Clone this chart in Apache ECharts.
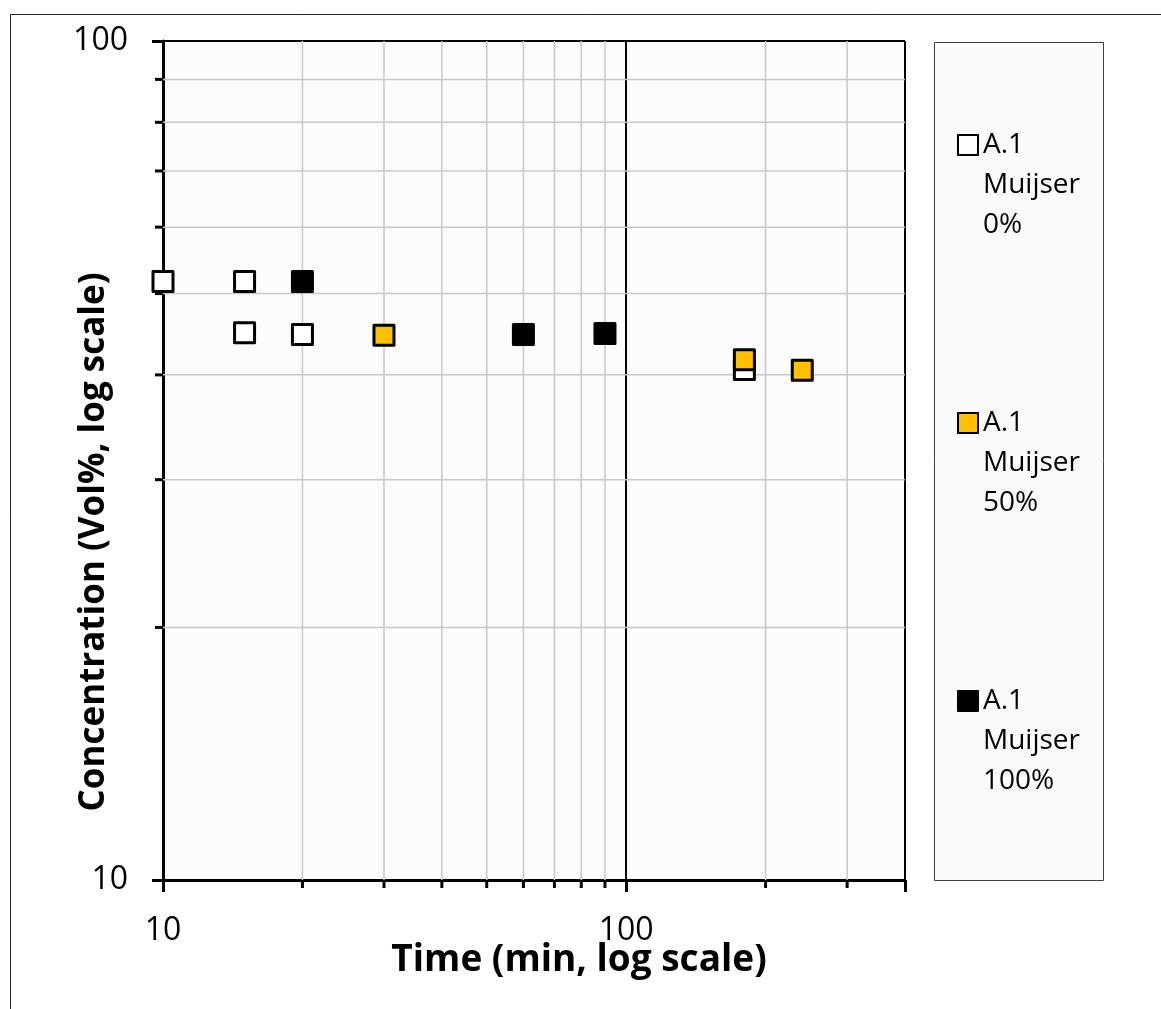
<!DOCTYPE html>
<html>
<head>
<meta charset="utf-8">
<title>Concentration vs time</title>
<script src="https://cdn.jsdelivr.net/npm/echarts@6/dist/echarts.min.js"></script>
<style>
  html, body { margin: 0; padding: 0; background: #fff; }
  #chart { width: 1161px; height: 1009px; }
</style>
</head>
<body>
<div id="chart"></div>
<script>
// legend / series names
var seriesNames = ['A.1 Muijser 0%', 'A.1 Muijser 50%', 'A.1 Muijser 100%'];
// [time (min), concentration (vol%)]
var muijser0 = [[10, 51.7], [15, 51.7], [15, 44.9], [20, 44.7], [180, 40.6]];
var muijser50 = [[30, 44.6], [180, 41.7], [240, 40.5]];
var muijser100 = [[20, 51.7], [60, 44.7], [90, 44.8]];
// minor gridlines between the decades
var xMinorTicks = [20, 30, 40, 50, 60, 70, 80, 90, 200, 300];
var yMinorTicks = [20, 30, 40, 50, 60, 70, 80, 90];
var xRange = [10, 400];
var yRange = [10, 100];

var FONT = '"Open Sans", "Noto Sans", sans-serif';
var chart = echarts.init(document.getElementById('chart'));

function isDecade(v) {
    var l = Math.log(v) / Math.LN10;
    return Math.abs(l - Math.round(l)) < 1e-6;
}

// vertical minor gridline + short tick under the x axis
function xMinorItem(params, api) {
    var b = api.coord([api.value(0), yRange[0]]);
    var t = api.coord([api.value(0), yRange[1]]);
    return {
        type: 'group',
        children: [
            {type: 'line', shape: {x1: b[0], y1: b[1], x2: t[0], y2: t[1]}, style: {stroke: '#c8c8c8', lineWidth: 1.5}},
            {type: 'line', shape: {x1: b[0], y1: b[1], x2: b[0], y2: b[1] + 8}, style: {stroke: '#000', lineWidth: 3}}
        ]
    };
}
// horizontal minor gridline + short tick left of the y axis
function yMinorItem(params, api) {
    var l = api.coord([xRange[0], api.value(1)]);
    var r = api.coord([xRange[1], api.value(1)]);
    return {
        type: 'group',
        children: [
            {type: 'line', shape: {x1: l[0], y1: l[1], x2: r[0], y2: r[1]}, style: {stroke: '#c8c8c8', lineWidth: 1.5}},
            {type: 'line', shape: {x1: l[0], y1: l[1], x2: l[0] - 8, y2: l[1]}, style: {stroke: '#000', lineWidth: 3}}
        ]
    };
}

function markerSeries(name, data, fill) {
    return {
        name: name,
        type: 'scatter',
        data: data,
        symbol: 'rect',
        symbolSize: 20,
        z: 5,
        itemStyle: {color: fill, borderColor: '#000', borderWidth: 3, borderJoin: 'round', opacity: 1}
    };
}

chart.setOption({
    animation: false,
    textStyle: {fontFamily: FONT},
    graphic: [
        // outer chart frame
        {type: 'rect', left: 8, top: 12, shape: {width: 1300, height: 1100}, style: {fill: 'none', stroke: '#222', lineWidth: 1}},
        // legend box
        {type: 'rect', left: 934, top: 42, shape: {width: 169, height: 838}, style: {fill: '#fafafa', stroke: '#404040', lineWidth: 1}}
    ],
    grid: {
        left: 163, top: 41, width: 742, height: 839,
        show: true, backgroundColor: '#fcfcfc', borderColor: '#444', borderWidth: 1
    },
    legend: {
        data: seriesNames,
        orient: 'vertical',
        left: 957, top: 45,
        padding: 0,
        itemWidth: 20, itemHeight: 20, itemGap: 78,
        itemStyle: {borderWidth: 2},
        formatter: function (name) { return '\n\n' + name.split(' ').join('\n'); },
        textStyle: {fontFamily: FONT, fontSize: 28, lineHeight: 40, color: '#000'}
    },
    xAxis: {
        type: 'log', logBase: 10, min: xRange[0], max: xRange[1],
        name: 'Time (min, log scale)', nameLocation: 'middle', nameGap: 62, nameMoveOverlap: false,
        nameTextStyle: {fontFamily: FONT, fontSize: 37, fontWeight: 'bold', color: '#000', padding: [0, 0, 0, 90]},
        axisLine: {lineStyle: {color: '#000', width: 3}},
        axisTick: {length: 12, lineStyle: {color: '#000', width: 3}},
        axisLabel: {
            fontFamily: FONT, fontSize: 32, color: '#000', margin: 35,
            formatter: function (v) { return isDecade(v) ? String(Math.round(v)) : ''; }
        },
        splitLine: {show: true, lineStyle: {color: '#000', width: 2}}
    },
    yAxis: {
        type: 'log', logBase: 10, min: yRange[0], max: yRange[1],
        name: 'Concentration (Vol%, log scale)', nameLocation: 'middle', nameGap: 51, nameMoveOverlap: false,
        nameTextStyle: {fontFamily: FONT, fontSize: 35, fontWeight: 'bold', color: '#000', padding: [0, 163, 0, 0]},
        axisLine: {lineStyle: {color: '#000', width: 3}},
        axisTick: {length: 11, lineStyle: {color: '#000', width: 3}},
        axisLabel: {
            fontFamily: FONT, fontSize: 32, color: '#000', margin: 35,
            formatter: function (v) { return isDecade(v) ? String(Math.round(v)) : ''; }
        },
        splitLine: {show: true, lineStyle: {color: '#000', width: 2}}
    },
    series: [
        {type: 'custom', name: 'xMinor', silent: true, z: 1, renderItem: xMinorItem,
         data: xMinorTicks.map(function (v) { return [v, yRange[0]]; })},
        {type: 'custom', name: 'yMinor', silent: true, z: 1, renderItem: yMinorItem,
         data: yMinorTicks.map(function (v) { return [xRange[0], v]; })},
        markerSeries(seriesNames[0], muijser0, '#ffffff'),
        markerSeries(seriesNames[1], muijser50, '#ffc000'),
        markerSeries(seriesNames[2], muijser100, '#000000')
    ]
});
</script>
</body>
</html>
